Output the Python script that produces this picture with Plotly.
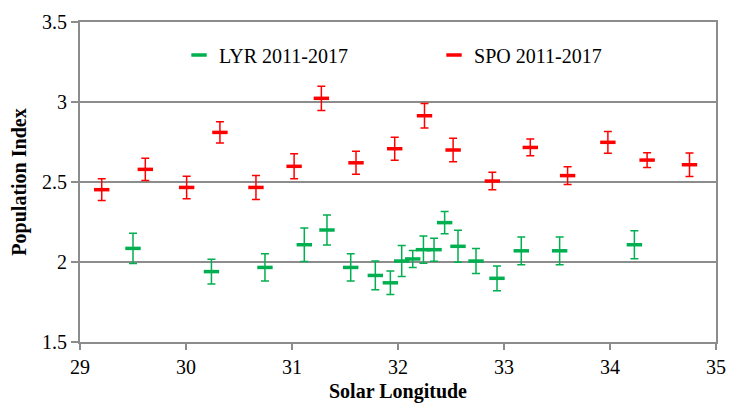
import plotly.graph_objects as go

# LYR 2011-2017 (green)
lyr_x = [29.50, 30.24, 30.745, 31.116, 31.33, 31.554, 31.786, 31.928, 32.035, 32.139,
         32.24, 32.34, 32.44, 32.566, 32.736, 32.934, 33.163, 33.525, 34.23]
lyr_y = [2.085, 1.94, 1.966, 2.108, 2.20, 1.966, 1.916, 1.87, 2.006, 2.019,
         2.077, 2.077, 2.246, 2.098, 2.006, 1.898, 2.07, 2.07, 2.108]
lyr_err = [0.095, 0.077, 0.085, 0.105, 0.094, 0.085, 0.09, 0.073, 0.097, 0.053,
           0.085, 0.072, 0.07, 0.10, 0.078, 0.077, 0.087, 0.087, 0.088]

# SPO 2011-2017 (red)
spo_x = [29.205, 29.616, 30.006, 30.32, 30.66, 31.02, 31.277, 31.604, 31.969, 32.25,
         32.52, 32.89, 33.248, 33.60, 33.98, 34.35, 34.75]
spo_y = [2.452, 2.579, 2.466, 2.81, 2.466, 2.598, 3.023, 2.62, 2.708, 2.914,
         2.70, 2.506, 2.716, 2.54, 2.748, 2.637, 2.608]
spo_err = [0.068, 0.07, 0.07, 0.066, 0.075, 0.078, 0.076, 0.072, 0.072, 0.077,
           0.073, 0.055, 0.052, 0.055, 0.068, 0.046, 0.074]

GREEN = "#00B050"
RED = "#FF0000"
FONT = "Liberation Serif, Times New Roman, DejaVu Serif, serif"

fig = go.Figure()
fig.add_trace(go.Scatter(
    x=lyr_x, y=lyr_y, mode="markers", name="LYR 2011-2017",
    marker=dict(symbol="line-ew", size=11, color=GREEN, line=dict(color=GREEN, width=3.5)),
    error_y=dict(type="data", array=lyr_err, color=GREEN, thickness=1.5, width=4),
))
fig.add_trace(go.Scatter(
    x=spo_x, y=spo_y, mode="markers", name="SPO 2011-2017",
    marker=dict(symbol="line-ew", size=11, color=RED, line=dict(color=RED, width=3.5)),
    error_y=dict(type="data", array=spo_err, color=RED, thickness=1.5, width=4),
))

fig.update_layout(
    width=730, height=395,
    margin=dict(l=72, r=22, t=14, b=61, autoexpand=False),
    paper_bgcolor="white", plot_bgcolor="white",
    font=dict(family=FONT, size=20, color="black"),
    showlegend=True,
    legend=dict(
        orientation="h", x=0.1557, xanchor="left", y=0.897, yanchor="middle",
        bgcolor="rgba(0,0,0,0)", font=dict(family=FONT, size=20),
        entrywidth=210, entrywidthmode="pixels",
    ),
    xaxis=dict(
        range=[29, 35], dtick=1, tick0=29, showgrid=False, zeroline=False,
        showline=True, linecolor="#8c8c8c", linewidth=2, mirror=True,
        ticks="outside", ticklen=6, tickcolor="#8c8c8c", tickwidth=2,
        tickfont=dict(family=FONT, size=20), automargin=False,
        title=dict(text="<b>Solar Longitude</b>", font=dict(family=FONT, size=20), standoff=12),
    ),
    yaxis=dict(
        range=[1.5, 3.5], dtick=0.5, tick0=1.5, showgrid=True, gridcolor="#8c8c8c", gridwidth=2,
        zeroline=False, showline=True, linecolor="#8c8c8c", linewidth=2, mirror=True,
        ticks="outside", ticklen=7, tickcolor="#8c8c8c", tickwidth=2,
        tickfont=dict(family=FONT, size=20), automargin=False,
        title=dict(text="<b>Population Index</b>", font=dict(family=FONT, size=20), standoff=10),
    ),
)

fig.write_html("out.html")
